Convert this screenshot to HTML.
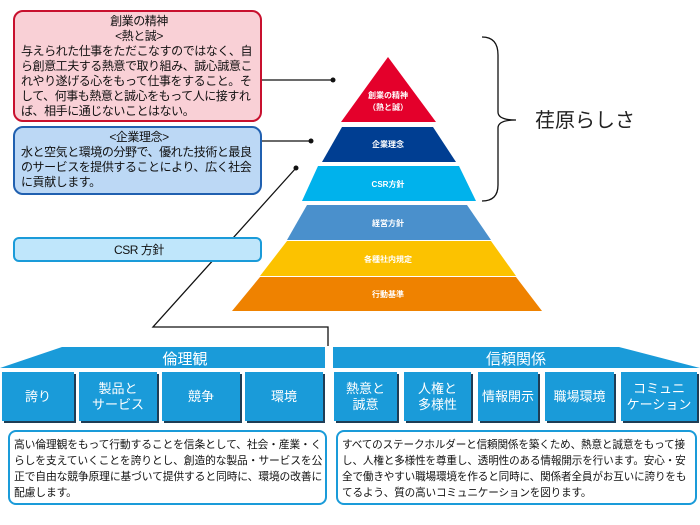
<!DOCTYPE html>
<html><head><meta charset="utf-8"><style>
body{margin:0;width:700px;height:525px;background:#fff;position:relative;overflow:hidden;font-family:"Liberation Sans","Noto Sans CJK JP",sans-serif;}
.a{position:absolute;box-sizing:border-box;}
.box{border-radius:10px;border:2px solid;font-size:12px;line-height:15px;color:#111;padding:2px 3px 2px 6px;white-space:nowrap;letter-spacing:-0.45px;}
.tile{position:absolute;background:#1a9bd9;color:#fff;font-size:13px;line-height:16px;display:flex;align-items:center;justify-content:center;text-align:center;box-shadow:2px 2px 0 #1f3d55;top:372px;height:49px;}
.desc{position:absolute;top:430px;height:75px;border:2px solid #1a9bd9;border-radius:8px;line-height:16px;color:#111;padding:5px 0 0 4px;box-sizing:border-box;white-space:nowrap;letter-spacing:-0.15px;}
</style></head><body>
<svg class="a" style="left:0;top:0" width="700" height="525">
<polygon points="388,57 436,122 341,122" fill="#e4002b"/>
<polygon points="342,127 433,127 456,162 322,162" fill="#003e92"/>
<polygon points="318,166 459,166 476,201 302,201" fill="#00b2ec"/>
<polygon points="307,205 467,205 491,240 287,240" fill="#4a90cc"/>
<polygon points="287,241 491,241 516,276 260,276" fill="#fcc200"/>
<polygon points="260,277 516,277 542,311 232,311" fill="#ef8200"/>
<g fill="#fff" font-size="8" text-anchor="middle" font-weight="bold">
<text x="388" y="98">創業の精神</text><text x="388" y="110">（熱と誠）</text>
<text x="388" y="147">企業理念</text>
<text x="388" y="187">CSR方針</text>
<text x="388" y="226">経営方針</text>
<text x="388" y="262">各種社内規定</text>
<text x="388" y="297">行動基準</text>
</g>
<g stroke="#111" stroke-width="1.3" fill="none">
<line x1="262" y1="80" x2="333" y2="80"/>
<line x1="262" y1="141" x2="311" y2="141"/>
<polyline points="296,168 153,327 328,327 328,346"/>
<path d="M482,37 Q498,37 498,55 L498,112 Q498,120 516,120 Q498,120 498,128 L498,185 Q498,201 482,201"/>
</g>
<g fill="#111"><circle cx="333" cy="80" r="2.5"/><circle cx="311" cy="141" r="2.5"/><circle cx="296" cy="168" r="2.5"/></g>
<text x="535" y="127" font-size="20" fill="#222">荏原らしさ</text>
<polygon points="62,347 325,347 325,368 0,368" fill="#1a9bd9"/>
<polygon points="333,347 619,347 700,368 333,368" fill="#1a9bd9"/>
<text x="185" y="364" font-size="15" fill="#fff" text-anchor="middle">倫理観</text>
<text x="516" y="364" font-size="15" fill="#fff" text-anchor="middle">信頼関係</text>
</svg>
<div class="a box" style="left:13px;top:10px;width:249px;height:112px;background:#f9d0d6;border-color:#c8102e;">
<div style="text-align:center">創業の精神<br>&lt;熱と誠&gt;</div>与えられた仕事をただこなすのではなく、自<br>ら創意工夫する熱意で取り組み、誠心誠意こ<br>れやり遂げる心をもって仕事をすること。そ<br>して、何事も熱意と誠心をもって人に接すれ<br>ば、相手に通じないことはない。</div>
<div class="a box" style="left:13px;top:126px;width:249px;height:69px;background:#bcd8f5;border-color:#2060b0;">
<div style="text-align:center">&lt;企業理念&gt;</div>水と空気と環境の分野で、優れた技術と最良<br>のサービスを提供することにより、広く社会<br>に貢献します。</div>
<div class="a box" style="left:13px;top:237px;width:249px;height:25px;background:#bfe6fb;border-color:#1a9bd9;text-align:center;line-height:19px;border-radius:6px;">CSR 方針</div>
<div class="tile" style="left:2px;width:72px;">誇り</div>
<div class="tile" style="left:79px;width:78px;">製品と<br>サービス</div>
<div class="tile" style="left:162px;width:78px;">競争</div>
<div class="tile" style="left:245px;width:78px;">環境</div>
<div class="tile" style="left:334px;width:63px;">熱意と<br>誠意</div>
<div class="tile" style="left:404px;width:67px;">人権と<br>多様性</div>
<div class="tile" style="left:478px;width:60px;">情報開示</div>
<div class="tile" style="left:545px;width:69px;">職場環境</div>
<div class="tile" style="left:621px;width:76px;">コミュニ<br>ケーション</div>
<div class="desc" style="left:8px;width:319px;font-size:10.8px;">高い倫理観をもって行動することを信条として、社会・産業・く<br>らしを支えていくことを誇りとし、創造的な製品・サービスを公<br>正で自由な競争原理に基づいて提供すると同時に、環境の改善に<br>配慮します。</div>
<div class="desc" style="left:336px;width:361px;font-size:10.6px;">すべてのステークホルダーと信頼関係を築くため、熱意と誠意をもって接<br>し、人権と多様性を尊重し、透明性のある情報開示を行います。安心・安<br>全で働きやすい職場環境を作ると同時に、関係者全員がお互いに誇りをも<br>てるよう、質の高いコミュニケーションを図ります。</div>
</body></html>
